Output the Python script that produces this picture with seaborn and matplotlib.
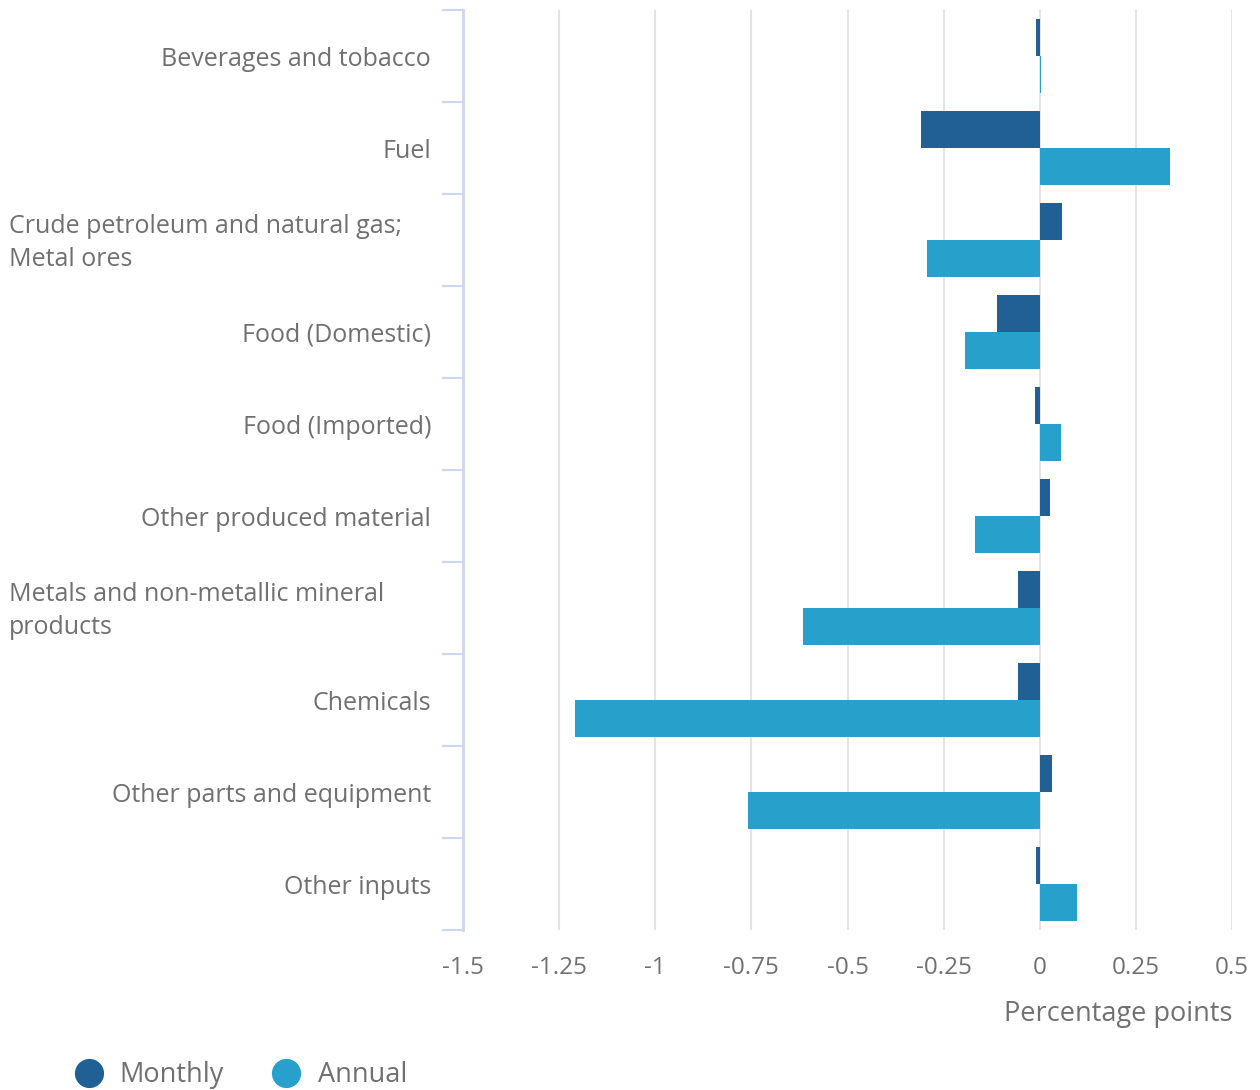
import matplotlib
matplotlib.use("Agg")
import matplotlib.pyplot as plt
from matplotlib.lines import Line2D
from matplotlib.ticker import FixedLocator
import matplotlib.transforms as mtransforms
import seaborn as sns
import pandas as pd

categories = [
    "Beverages and tobacco",
    "Fuel",
    "Crude petroleum and natural gas;\nMetal ores",
    "Food (Domestic)",
    "Food (Imported)",
    "Other produced material",
    "Metals and non-metallic mineral\nproducts",
    "Chemicals",
    "Other parts and equipment",
    "Other inputs",
]
monthly = [-0.009, -0.308, 0.058, -0.111, -0.013, 0.026, -0.056, -0.056, 0.032, -0.009]
annual = [0.004, 0.338, -0.293, -0.194, 0.056, -0.168, -0.617, -1.208, -0.758, 0.097]
series_names = ["Monthly", "Annual"]
xticks = [-1.5, -1.25, -1, -0.75, -0.5, -0.25, 0, 0.25, 0.5]
xtick_labels = ["-1.5", "-1.25", "-1", "-0.75", "-0.5", "-0.25", "0", "0.25", "0.5"]

df = pd.DataFrame({
    "category": categories * 2,
    "value": monthly + annual,
    "series": [series_names[0]] * len(categories) + [series_names[1]] * len(categories),
})

sns.set_theme(style="white")
plt.rcParams["font.family"] = ["Open Sans", "DejaVu Sans"]

text_color = "#707070"
spine_color = "#cdd6ee"
colors = ["#206095", "#27a0cc"]

fig = plt.figure(figsize=(12.6, 10.9), dpi=100)
ax = fig.add_axes([463 / 1260, 160 / 1090, 769 / 1260, 920 / 1090])

sns.barplot(data=df, y="category", x="value", hue="series", orient="h",
            palette=colors, width=0.8, ax=ax, legend=False, saturation=1,
            order=categories, hue_order=series_names, linewidth=0, zorder=3)

ax.set_xlim(-1.5, 0.5)
ax.set_ylim(len(categories) - 0.5, -0.5)
ax.set_xticks(xticks)
ax.set_xticklabels(xtick_labels, fontsize=17.5, color=text_color)
ax.tick_params(axis="x", length=0, pad=19)
ax.grid(axis="x", color="#e3e3e3", linewidth=1.5, zorder=0)
ax.grid(axis="y", visible=False)

for s in ["top", "right", "bottom"]:
    ax.spines[s].set_visible(False)
ax.spines["left"].set_color(spine_color)
ax.spines["left"].set_linewidth(2)

ax.set_yticks(range(len(categories)))
ax.set_yticklabels([""] * len(categories))
ax.tick_params(axis="y", which="major", length=0, left=False)
ax.yaxis.set_minor_locator(FixedLocator([i - 0.5 for i in range(len(categories) + 1)]))
ax.tick_params(axis="y", which="minor", left=True, length=15, width=1.5,
               color=spine_color, direction="out")

ax.set_ylabel("")
ax.set_xlabel("Percentage points", loc="right", fontsize=19.5, color=text_color, labelpad=14)

trans = ax.get_yaxis_transform() + mtransforms.ScaledTranslation(0, -3 / 100, fig.dpi_scale_trans)
for i, cat in enumerate(categories):
    if "\n" in cat:
        ax.text((9 - 463) / 769, i, cat, transform=trans, ha="left", va="center",
                fontsize=18, color=text_color, linespacing=1.45, clip_on=False)
    else:
        ax.text((431 - 463) / 769, i, cat, transform=trans, ha="right", va="center",
                fontsize=18, color=text_color, clip_on=False)

handles = [Line2D([0], [0], marker="o", linestyle="", markersize=20,
                  markerfacecolor=c, markeredgecolor=c) for c in colors]
fig.legend(handles, series_names, loc="center left", bbox_to_anchor=(48 / 1260, 1 - 1075 / 1090),
           ncol=2, frameon=False, fontsize=19.5, labelcolor=text_color,
           handletextpad=0.55, columnspacing=1.7, handlelength=1.2)

fig.savefig("out.png", dpi=100)
